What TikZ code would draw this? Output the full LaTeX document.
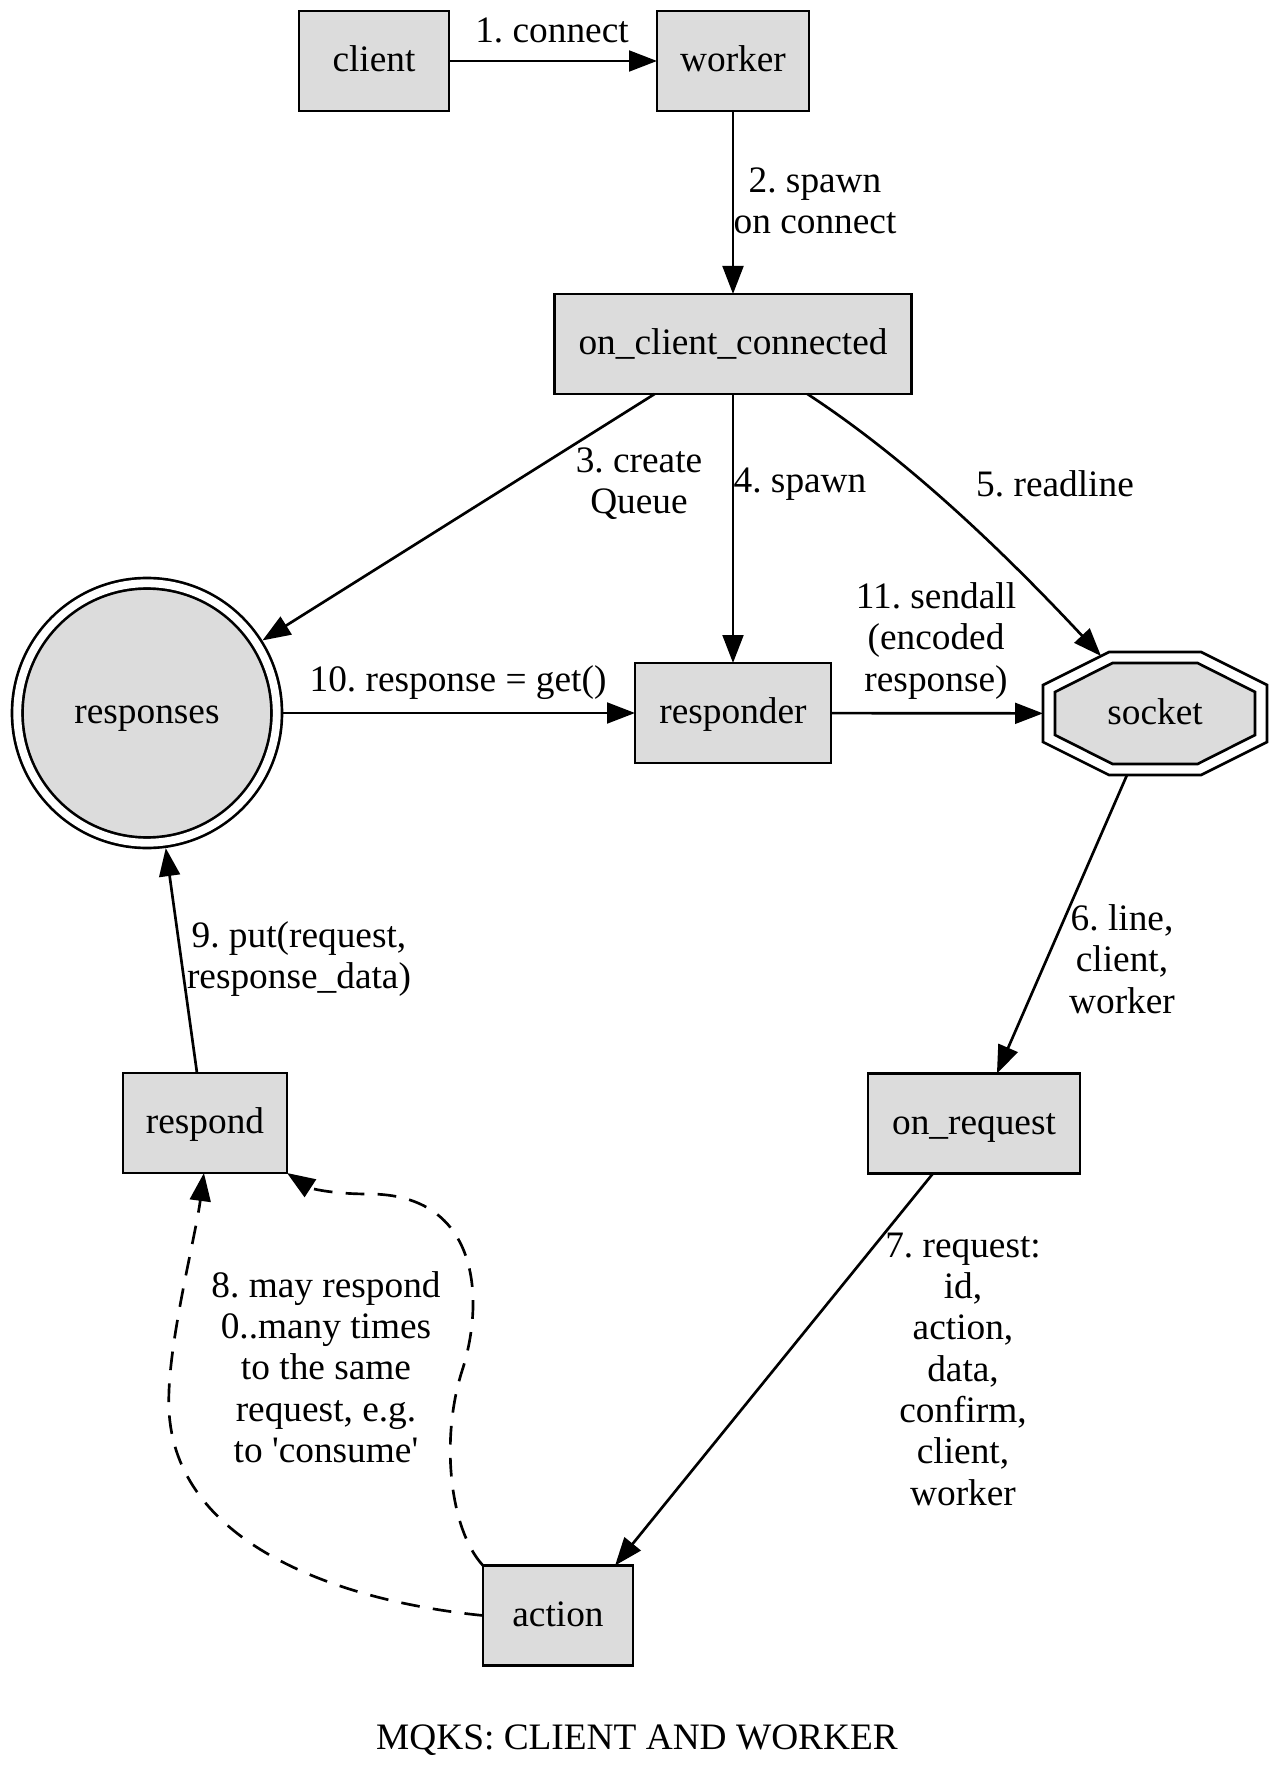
\documentclass[tikz,border=0pt]{standalone}
\usepackage{fontspec}
\setmainfont{Liberation Serif}
\usetikzlibrary{arrows.meta}
\definecolor{nodefill}{RGB}{220,220,220}
\frenchspacing
\begin{document}
\begin{tikzpicture}[x=0.375pt,y=-0.375pt,
  every node/.style={font=\fontsize{14}{15.5}\selectfont},
  fixtext/.style={text height=9.7pt,text depth=1.5pt},
  box/.style={draw,fill=nodefill,line width=1pt,rectangle,inner sep=0pt,minimum height=37.5pt,outer sep=0pt,fixtext},
  lbl/.style={align=center,inner sep=0pt},
  edge/.style={line width=1pt,-{Triangle[length=10.5pt,width=7.8pt]}},
  dashededge/.style={edge,dash pattern=on 7pt off 5pt}]
\useasboundingbox (0,0) rectangle (1277,1785);

% nodes
\node[box,minimum width=56.25pt] (client) at (374,61) {client};
\node[box,minimum width=57pt] (worker) at (733,61) {worker};
\node[box,minimum width=133.9pt] (occ) at (733,344) {on\_client\_connected};
\node[box,minimum width=73.5pt] (responder) at (733,713) {responder};
\node[box,minimum width=61.5pt] (respond) at (205,1123) {respond};
\node[box,minimum width=79.5pt] (onreq) at (974,1123.5) {on\_request};
\node[box,minimum width=56.25pt] (action) at (558,1615.5) {action};
\node[circle,draw,fill=nodefill,line width=1pt,double,double distance=2.94pt,fixtext,
      minimum size=97.3pt,inner sep=0pt,outer sep=2.5pt] (responses) at (147,713) {responses};

% socket (double octagon)
\draw[line width=1pt,fill=white] (1109,652) -- (1201,652) -- (1267,685) -- (1267,742) -- (1201,775) -- (1109,775) -- (1043,742) -- (1043,685) -- cycle;
\draw[line width=1pt,fill=nodefill] (1112.5,663) -- (1197.5,663) -- (1255,692) -- (1255,735) -- (1197.5,764) -- (1112.5,764) -- (1055,735) -- (1055,692) -- cycle;
\node[inner sep=0pt,outer sep=0pt,minimum width=84pt,minimum height=46.1pt,fixtext] (socket) at (1155,713.5) {socket};
\coordinate (sockfive) at (1101,656);

% edges
\draw[edge] (client) -- (worker);
\draw[edge] (worker) -- (occ);
\draw[edge] ([xshift=-29.4pt]occ.south) -- (responses);
\draw[edge] (occ) -- (responder);
\draw[edge] ([xshift=27.9pt]occ.south) .. controls (870,435) and (960,505) .. (sockfive);
\draw[edge] (responses) -- (responder);
\draw[edge] (responder) -- (socket);
\draw[edge] ([xshift=-10.5pt]socket.south) -- ([xshift=8.6pt]onreq.north);
\draw[edge] ([xshift=-15.4pt]onreq.south) -- ([xshift=21.4pt]action.north);
\draw[edge] ([xshift=-3pt]respond.north) -- (responses);
\draw[dashededge] (action.west) .. controls (330,1600) and (175,1540) .. (169,1410)
   .. controls (166,1350) and (195,1240) .. ([xshift=-0.4pt]respond.south);
\draw[dashededge] (action.north west) .. controls (450,1530) and (440,1440) .. (462,1371)
   .. controls (485,1300) and (480,1194) .. (369,1194)
   .. controls (330,1194) and (310,1188) .. (respond.south east);

% labels
\node[lbl] (l1) at (552,30) {1. connect};
\node[lbl] (l2) at (815,201) {2. spawn\\on connect};
\node[lbl] (l3) at (639,484) {3. create\\Queue};
\node[lbl] (l4) at (800,484) {4. spawn};
\node[lbl] (l5) at (1055,484) {5. readline};
\node[lbl] (l6) at (1122,959) {6. line,\\client,\\worker};
\node[lbl] (l7) at (963,1369) {7. request:\\id,\\action,\\data,\\confirm,\\client,\\worker};
\node[lbl] (l8) at (326,1367) {8. may respond\\0..many times\\to the same\\request, e.g.\\to \textquotesingle consume\textquotesingle};
\node[lbl] (l9) at (299,959) {9. put(request,\\response\_data)};
\node[lbl] (l10) at (458,683) {10. response = get()};
\node[lbl] (l11) at (936,641) {11. sendall\\(encoded\\response)};
\node[lbl] (title) at (637,1740) {MQKS: CLIENT AND WORKER};
\end{tikzpicture}
\end{document}
